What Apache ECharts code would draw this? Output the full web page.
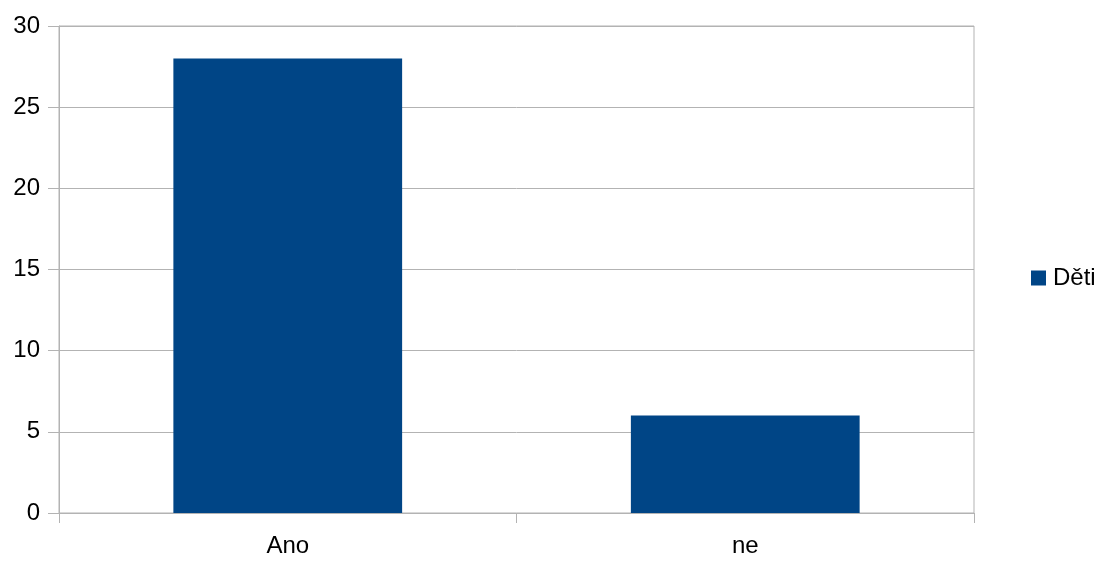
<!DOCTYPE html>
<html>
<head>
<meta charset="utf-8">
<script src="https://cdn.jsdelivr.net/npm/echarts@6/dist/echarts.min.js"></script>
<style>
  html, body { margin: 0; padding: 0; background: #fff; }
  #chart { width: 1101px; height: 561px; }
</style>
</head>
<body>
<div id="chart"></div>
<script>
const categories = ['Ano', 'ne'];
const seriesName = 'Děti';
const values = [28, 6];
const yTicks = { min: 0, max: 30, interval: 5 };

const gridColor = '#b3b3b3';
const font = '"Liberation Sans", Arial, sans-serif';

const chart = echarts.init(document.getElementById('chart'), null, { renderer: 'canvas' });
chart.setOption({
  animation: false,
  backgroundColor: '#ffffff',
  textStyle: { fontFamily: font },
  grid: {
    left: 59, right: 127, top: 26, bottom: 48,
    show: true, borderColor: gridColor, borderWidth: 1,
    containLabel: false
  },
  legend: {
    orient: 'vertical',
    left: 1026, top: 261,
    itemWidth: 15, itemHeight: 15, itemGap: 8,
    icon: 'rect',
    textStyle: { fontSize: 24, color: '#000', fontFamily: font, padding: [0, 0, 0, 2] },
    data: [seriesName]
  },
  xAxis: {
    type: 'category',
    data: categories,
    boundaryGap: true,
    axisLine: { show: true, lineStyle: { color: gridColor, width: 1 } },
    axisTick: { show: true, length: 10, lineStyle: { color: gridColor }, alignWithLabel: false },
    axisLabel: { fontSize: 24, color: '#000', margin: 21, fontFamily: font },
    splitLine: { show: false }
  },
  yAxis: {
    type: 'value',
    min: yTicks.min, max: yTicks.max, interval: yTicks.interval,
    axisLine: { show: true, lineStyle: { color: gridColor, width: 1 } },
    axisTick: { show: true, length: 11, lineStyle: { color: gridColor } },
    axisLabel: { fontSize: 24, color: '#000', margin: 19, fontFamily: font },
    splitLine: { show: true, lineStyle: { color: gridColor, width: 1 } }
  },
  series: [{
    name: seriesName,
    type: 'bar',
    data: values,
    barWidth: '50%',
    itemStyle: { color: '#004586' }
  }]
});
</script>
</body>
</html>
